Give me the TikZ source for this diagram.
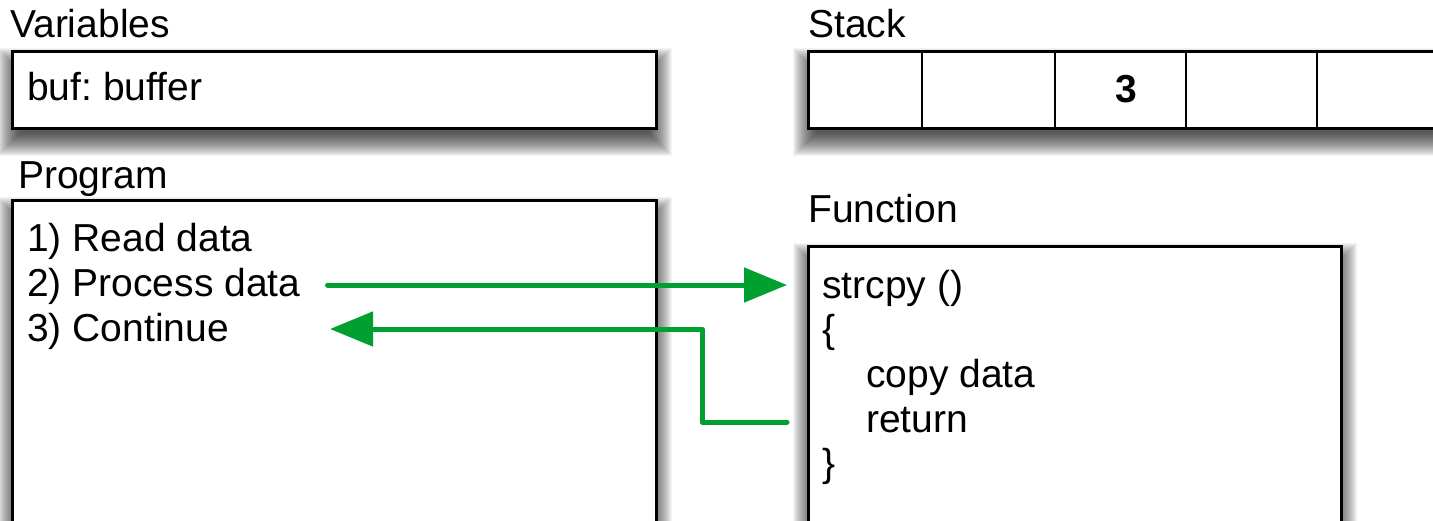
\documentclass[tikz,border=0pt]{standalone}
\usepackage{fontspec}
\setmainfont{Liberation Sans}
\usetikzlibrary{arrows.meta,calc,backgrounds}
\definecolor{agreen}{RGB}{0,160,48}
\frenchspacing
\newcommand{\boxshadow}[1]{%
  \begin{scope}[on background layer]
    \foreach \k in {1,...,24}{%
      \pgfmathsetmacro\e{-10+\k}
      \fill[black,opacity=0.045] ($(#1.south west)+(-\e,12+\e)$) rectangle ($(#1.north east)+(\e,12-\e)$);
    }
  \end{scope}}
\begin{document}
\begin{tikzpicture}[x=1pt,y=-1pt,
 box/.style={draw=black,line width=3pt,fill=white,inner sep=0pt,anchor=north west},
 cell/.style={inner sep=0pt,anchor=north west,minimum height=77pt,font=\fontsize{39}{39}\selectfont\bfseries},
 lbl/.style={anchor=base west,inner sep=0pt,font=\fontsize{39}{39}\selectfont},
 divider/.style={draw=black,line width=2pt},
 garrow/.style={draw=agreen,line width=5pt,line cap=round,line join=round,-{Triangle[length=43pt,width=34pt]}}]
\useasboundingbox (0,0) rectangle (1433,520);
\clip (0,0) rectangle (1433,520);

% Variables
\node[lbl] (tvar) at (10,37) {Variables};
\node[box,minimum width=644pt,minimum height=77pt] (var) at (11,50) {};
\boxshadow{var}
\node[lbl] (buf) at (27,100) {buf: buffer};

% Stack
\node[lbl] (tstack) at (808,37) {Stack};
\node[box,minimum width=639pt,minimum height=77pt] (stack) at (807,50) {};
\boxshadow{stack}
\node[cell,minimum width=115pt] (c1) at (807,50) {};
\node[cell,minimum width=132pt] (c2) at (c1.north east) {};
\node[cell,minimum width=131pt] (c3) at (c2.north east) {\hspace{12pt}3};
\node[cell,minimum width=130pt] (c4) at (c3.north east) {};
\node[cell,minimum width=131pt] (c5) at (c4.north east) {};
\foreach \c in {c1,c2,c3,c4}{\draw[divider] (\c.north east) -- (\c.south east);}

% Program
\node[lbl] (tprog) at (18,188) {Program};
\node[box,minimum width=644pt,minimum height=360pt] (prog) at (11,199) {};
\boxshadow{prog}
\node[lbl] (l1) at (27,251) {1) Read data};
\node[lbl] (l2) at (27,296) {2) Process data};
\node[lbl] (l3) at (27,341) {3) Continue};

% Function
\node[lbl] (tfunc) at (808,222) {Function};
\node[box,minimum width=533pt,minimum height=320pt] (func) at (807,245) {};
\boxshadow{func}
\node[lbl] (f1) at (822,298) {strcpy ()};
\node[lbl] (f2) at (822,342) {\{};
\node[lbl] (f3) at (866,387) {copy data};
\node[lbl] (f4) at (866,432) {return};
\node[lbl] (f5) at (822,476) {\}};

% Arrows
\draw[garrow] ($(l2.base east)+(27,-11)$) -- ($(func.west |- l2.base)+(-20,-11)$);
\draw[garrow] ($(func.west |- f4.base)+(-20,-10)$) -- ++(-85,0) |- ($(l3.base east)+(101,-12)$);
\end{tikzpicture}
\end{document}
